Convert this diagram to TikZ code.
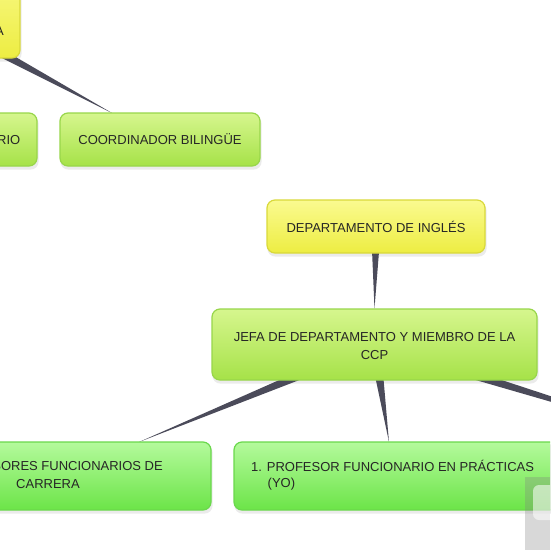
\documentclass[tikz,border=0pt]{standalone}
\usepackage{fontspec}
\setmainfont{Liberation Sans}
\usetikzlibrary{calc}
\pgfdeclarelayer{bg}
\pgfsetlayers{bg,main}
\definecolor{txt}{HTML}{262626}
\definecolor{conn}{HTML}{4B4B5A}
\definecolor{yelT}{HTML}{FAFA90}
\definecolor{yelB}{HTML}{EDED42}
\definecolor{yelD}{HTML}{D9D93A}
\definecolor{lgT}{HTML}{D6F68E}
\definecolor{lgB}{HTML}{A6E248}
\definecolor{lgD}{HTML}{98D64A}
\definecolor{bgT}{HTML}{B4FA9C}
\definecolor{bgB}{HTML}{6CE448}
\definecolor{bgD}{HTML}{6AD84C}
\tikzset{
  box/.style={draw, line width=1.2pt, rounded corners=8pt, inner sep=0pt},
  yelbox/.style={box, draw=yelD, top color=yelT, bottom color=yelB},
  lgbox/.style={box, draw=lgD, top color=lgT, bottom color=lgB},
  bgbox/.style={box, draw=bgD, top color=bgT, bottom color=bgB},
  lbl/.style={text=txt, font=\fontsize{13}{18}\selectfont, inner sep=0pt},
  shadowbox/.style={fill=black, opacity=0.08, rounded corners=8pt},
}
\newcommand{\wedgeline}[3]{%
  \fill[conn] ($(#1)!#3pt!90:(#2)$) -- ($(#1)!#3pt!-90:(#2)$) -- (#2) -- cycle;}
\begin{document}
\begin{tikzpicture}[x=1pt,y=-1pt]
\useasboundingbox (0,0) rectangle (550,550);
\clip (0,0) rectangle (550,550);
% boxes
\node[yelbox, minimum width=130, minimum height=100] (top) at (-45,8) {};
\node[lgbox, minimum width=100, minimum height=53] (rio) at (-13,139.5) {};
\node[lgbox, minimum width=200, minimum height=53] (coord) at (160,139.5) {};
\node[yelbox, minimum width=218, minimum height=53] (dept) at (376,226.5) {};
\node[lgbox, minimum width=325, minimum height=71] (jefa) at (374.5,344.5) {};
\node[bgbox, minimum width=311, minimum height=68] (prof) at (55.5,476) {};
\node[bgbox, minimum width=326, minimum height=68] (yo) at (397,476) {};
% tips of connectors
\coordinate (tipC) at (112,113);
\coordinate (tipL) at (139,442);
\coordinate (tipM) at (389,442);
\coordinate (tipR) at (690,442);
\coordinate (srcT) at (-40,31);
\begin{pgfonlayer}{bg}
  \fill[white] (0,0) rectangle (550,550);
  \foreach \b in {top,rio,coord,dept,jefa,prof,yo}{
    \fill[shadowbox] ($(\b.south west)+(1,3)$) rectangle ($(\b.north east)+(1,3)$);
  }
  \wedgeline{srcT}{tipC}{5.5}
  \wedgeline{dept.center}{jefa.north}{5}
  \wedgeline{jefa.center}{tipL}{6}
  \wedgeline{jefa.center}{tipM}{6}
  \wedgeline{jefa.center}{tipR}{6}
\end{pgfonlayer}
% texts
\node[lbl, anchor=east] (ttop) at (4,31) {A};
\node[lbl, anchor=east] (trio) at (20.5,140) {RIO};
\node[lbl] (tcoord) at (coord.center) {COORDINADOR BILINGÜE};
\node[lbl] (tdept) at (dept.center) {DEPARTAMENTO DE INGLÉS};
\node[lbl, align=center] (tjefa) at ($(jefa.center)+(0,2)$) {JEFA DE DEPARTAMENTO Y MIEMBRO DE LA\\CCP};
\node[lbl, anchor=east] (tprof1) at (163,466) {SORES FUNCIONARIOS DE};
\node[lbl] (tprof2) at (48,484) {CARRERA};
\node[lbl, anchor=west] (tyo1) at (251,466) {1. PROFESOR FUNCIONARIO EN PRÁCTICAS};
\node[lbl, anchor=west] (tyo2) at (267.5,484) {(YO)};
% overlay widget
\fill[gray, opacity=0.3] (525,477) rectangle (550,550);
\fill[white, opacity=0.55, rounded corners=6pt] (533,485) rectangle (565,520);
\end{tikzpicture}
\end{document}
